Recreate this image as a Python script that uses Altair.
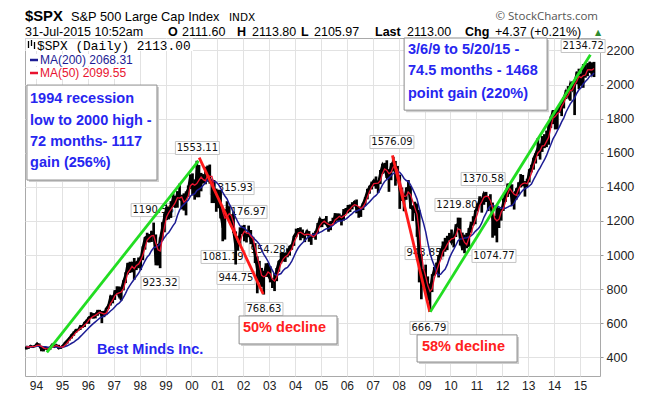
import altair as alt
import pandas as pd

# ---------------- data (monthly, Aug 1993 .. Jul 2015) ----------------
closes = [
    463.6, 458.9, 467.8, 461.8, 466.5,                                                   # 1993 Aug-Dec
    481.6, 467.1, 445.8, 450.9, 456.5, 444.3, 458.3, 475.5, 462.7, 472.4, 453.7, 459.3,  # 1994
    470.4, 487.4, 500.7, 514.7, 533.4, 544.8, 562.1, 561.9, 584.4, 581.5, 605.4, 615.9,  # 1995
    636.0, 640.4, 645.5, 654.2, 669.1, 670.6, 639.9, 651.9, 687.3, 705.3, 757.0, 740.7,  # 1996
    786.2, 790.8, 757.1, 801.3, 848.3, 885.1, 954.3, 899.5, 947.3, 914.6, 955.4, 970.4,  # 1997
    980.3, 1049.3, 1101.8, 1111.8, 1090.8, 1133.8, 1120.7, 957.3, 1017.0, 1098.7, 1163.6, 1229.2,  # 1998
    1279.6, 1238.3, 1286.4, 1335.2, 1301.8, 1372.7, 1328.7, 1320.4, 1282.7, 1362.9, 1388.9, 1469.3,  # 1999
    1394.5, 1366.4, 1498.6, 1452.4, 1420.6, 1454.6, 1430.8, 1517.7, 1436.5, 1429.4, 1315.0, 1320.3,  # 2000
    1366.0, 1239.9, 1160.3, 1249.5, 1255.8, 1224.4, 1211.2, 1133.6, 1040.9, 1059.8, 1139.5, 1148.1,  # 2001
    1130.2, 1106.7, 1147.4, 1076.9, 1067.1, 989.8, 911.6, 916.1, 815.3, 885.8, 936.3, 879.8,  # 2002
    855.7, 841.2, 848.2, 916.9, 963.6, 974.5, 990.3, 1008.0, 996.0, 1050.7, 1058.2, 1111.9,  # 2003
    1131.1, 1144.9, 1126.2, 1107.3, 1120.7, 1140.8, 1101.7, 1104.2, 1114.6, 1130.2, 1173.8, 1211.9,  # 2004
    1181.3, 1203.6, 1180.6, 1156.9, 1191.5, 1191.3, 1234.2, 1220.3, 1228.8, 1207.0, 1249.5, 1248.3,  # 2005
    1280.1, 1280.7, 1294.9, 1310.6, 1270.1, 1270.2, 1276.7, 1303.8, 1335.9, 1377.9, 1400.6, 1418.3,  # 2006
    1438.2, 1406.8, 1420.9, 1482.4, 1530.6, 1503.4, 1455.3, 1473.9, 1527.0, 1549.4, 1481.1, 1468.4,  # 2007
    1378.6, 1330.6, 1322.7, 1385.6, 1400.4, 1280.0, 1267.4, 1282.8, 1166.4, 968.8, 896.2, 903.3,  # 2008
    825.9, 735.1, 797.9, 872.8, 919.1, 919.3, 987.5, 1020.6, 1057.1, 1036.2, 1095.6, 1115.1,  # 2009
    1073.9, 1104.5, 1169.4, 1186.7, 1089.4, 1030.7, 1101.6, 1049.3, 1141.2, 1183.3, 1180.6, 1257.6,  # 2010
    1286.1, 1327.2, 1325.8, 1363.6, 1345.2, 1320.6, 1292.3, 1218.9, 1131.4, 1253.3, 1247.0, 1257.6,  # 2011
    1312.4, 1365.7, 1408.5, 1397.9, 1310.3, 1362.2, 1379.3, 1406.6, 1440.7, 1412.2, 1416.2, 1426.2,  # 2012
    1498.1, 1514.7, 1569.2, 1597.6, 1630.7, 1606.3, 1685.7, 1633.0, 1681.6, 1756.5, 1805.8, 1848.4,  # 2013
    1782.6, 1859.5, 1872.3, 1883.9, 1923.6, 1960.2, 1930.7, 2003.4, 1972.3, 2018.1, 2067.6, 2058.9,  # 2014
    1995.0, 2104.5, 2067.9, 2085.5, 2107.4, 2063.1, 2113.0,                              # 2015 Jan-Jul
]
highs = [
    464, 463, 470, 468, 471,
    482, 482, 468, 452, 458, 460, 459, 477, 476, 474, 474, 466,
    472, 489, 503, 515, 534, 552, 565, 565, 587, 587, 607, 622,
    637, 665, 660, 658, 679, 679, 672, 673, 690, 710, 762, 765,
    794, 817, 816, 812, 852, 899, 954, 961, 960, 983, 963, 986,
    993, 1051, 1106, 1131, 1124, 1142, 1190.58, 1121, 1066, 1103, 1193, 1245,
    1283, 1283, 1316, 1362, 1348, 1374, 1419, 1354, 1362, 1373, 1408, 1474,
    1479, 1444, 1553.11, 1528, 1482, 1475, 1518, 1525, 1531, 1448, 1440, 1390,
    1383, 1376, 1267, 1269, 1315.93, 1287, 1239, 1255, 1139, 1111, 1163, 1173,
    1176.97, 1131, 1173, 1147, 1107, 1070, 992, 966, 925, 907, 952, 954.28,
    935, 864, 895, 924, 966, 1015, 1016, 1012, 1040, 1054, 1063, 1112,
    1155, 1159, 1163, 1150, 1127, 1146, 1141, 1109, 1131, 1142, 1188, 1217,
    1212, 1212, 1229, 1192, 1199, 1219, 1246, 1245, 1244, 1233, 1270, 1276,
    1294, 1297, 1310, 1318, 1326, 1284, 1283, 1306, 1340, 1389, 1407, 1431,
    1441, 1461, 1438, 1499, 1535, 1541, 1556, 1504, 1539, 1576.09, 1552, 1523,
    1471, 1396, 1359, 1397, 1440, 1405, 1292, 1313, 1303, 1265, 1007, 919,
    943.85, 875, 833, 888, 930, 956, 996, 1039, 1080, 1101, 1113, 1130,
    1150, 1113, 1181, 1219.80, 1219, 1132, 1120, 1130, 1158, 1196, 1228, 1263,
    1303, 1345, 1333, 1365, 1370.58, 1345, 1357, 1308, 1229, 1293, 1277, 1270,
    1333, 1378, 1420, 1422, 1415, 1364, 1392, 1427, 1475, 1470, 1434, 1448,
    1503, 1530, 1570, 1598, 1687, 1654, 1698, 1709, 1730, 1776, 1814, 1849,
    1850, 1867, 1884, 1891, 1925, 1968, 1991, 2006, 2019, 2019, 2076, 2093,
    2064, 2120, 2117, 2126, 2134.72, 2130, 2133,
]
lows = [
    446, 450, 458, 455, 460,
    465, 465, 436, 435, 445, 442, 444, 457, 461, 460, 449, 450,
    458, 469, 481, 499, 511, 527, 544, 555, 561, 573, 578, 598,
    597, 631, 627, 629, 644, 657, 601, 636, 648, 684, 704, 717,
    737, 773, 756, 733, 793, 836, 886, 896, 899, 855, 912, 923,
    912, 970, 1032, 1076, 1074, 1077, 1112, 940, 939, 923.32, 1086, 1134,
    1205, 1209, 1218, 1282, 1277, 1278, 1325, 1268, 1261, 1233, 1342, 1387,
    1350, 1325, 1339, 1339, 1374, 1420, 1416, 1431, 1419, 1305, 1305, 1254,
    1275, 1215, 1081.19, 1091, 1244, 1203, 1165, 1129, 944.75, 1026, 1054, 1123,
    1081, 1074, 1105, 1064, 1049, 953, 776, 838, 815, 768.63, 872, 872,
    840, 807, 789, 847, 902, 951, 962, 960, 990, 997, 1031, 1054,
    1105, 1124, 1087, 1101, 1076, 1114, 1078, 1060, 1102, 1090, 1127, 1163,
    1164, 1180, 1176, 1137, 1146, 1188, 1184, 1201, 1201, 1174, 1202, 1245,
    1245, 1253, 1268, 1285, 1245, 1219, 1224, 1264, 1290, 1327, 1360, 1385,
    1403, 1389, 1364, 1416, 1476, 1484, 1452, 1371, 1439, 1490, 1407, 1435,
    1271, 1317, 1257, 1324, 1373, 1272, 1200, 1247, 1107, 840, 741, 815,
    805, 735, 666.79, 783, 879, 888, 869, 979, 992, 1020, 1029, 1086,
    1071, 1045, 1106, 1165, 1056, 1028, 1011, 1040, 1048, 1131, 1173, 1181,
    1257, 1294, 1249, 1295, 1311, 1258, 1283, 1102, 1114, 1074.77, 1159, 1202,
    1259, 1312, 1341, 1358, 1292, 1267, 1325, 1354, 1397, 1403, 1343, 1398,
    1426, 1485, 1501, 1537, 1581, 1560, 1605, 1627, 1633, 1647, 1746, 1768,
    1737, 1738, 1834, 1815, 1860, 1915, 1931, 1905, 1964, 1821, 2001, 1973,
    1993, 1981, 2040, 2049, 2068, 2057, 2044,
]
assert len(closes) == len(highs) == len(lows) == 264

# month mid-points as decimal years, starting Aug 1993
t_vals = [1993 + (7 + i + 0.5) / 12 for i in range(len(closes))]

# price call-outs
callout_text = ["1553.11", "1315.93", "1176.97", "1190.58", "923.32", "1081.19", "944.75", "954.28",
                "768.63", "1576.09", "1219.80", "1370.58", "943.85", "1074.77", "666.79", "2134.72"]
callout_t = [2000.23, 2001.57, 2002.07, 1998.52, 1998.79, 2001.22, 2001.72, 2002.96,
             2002.80, 2007.74, 2010.25, 2011.26, 2008.98, 2011.68, 2009.17, 2015.12]
callout_v = [1628, 1393, 1253, 1264, 836, 989, 866, 1030,
             684, 1663, 1294, 1446, 1012, 995, 573, 2226]

# trend lines
trend_seg = ["g1", "g1", "r1", "r1", "r2", "r2", "g2", "g2"]
trend_t = [1994.42, 2000.27, 2000.30, 2002.77, 2007.76, 2009.20, 2009.22, 2015.40]
trend_v = [430, 1553, 1572, 772, 1585, 667, 667, 2175]
trend_col = ["#22dd22", "#22dd22", "#ff1a1a", "#ff1a1a", "#ff1a1a", "#ff1a1a", "#22dd22", "#22dd22"]

# annotation boxes
box_t1 = [1993.65, 2008.21, 2001.84, 2008.71]
box_t2 = [1998.67, 2013.73, 2005.62, 2012.57]
box_v1 = [1997, 2273, 643, 532]
box_v2 = [1440, 1850, 479, 373]

anno_text = ["1994 recession", "low to 2000 high -", "72 months- 1117", "gain (256%)",
             "3/6/9 to 5/20/15 -", "74.5 months - 1468", "point gain (220%)",
             "50% decline", "58% decline", "Best Minds Inc."]
anno_t = [1993.77, 1993.77, 1993.77, 1993.77, 2008.36, 2008.36, 2008.36, 2001.99, 2008.90, 1996.35]
anno_v = [1915, 1786, 1663, 1540, 2202, 2082, 1944, 573, 461, 444]
anno_col = ["#2626f0"] * 7 + ["#ff2020", "#ff2020", "#2626f0"]

year_ticks = list(range(1994, 2016))
price_ticks = list(range(400, 2201, 200))

# ---------------- chart ----------------
df = pd.DataFrame({"t": t_vals, "close": closes, "high": highs, "low": lows})
callout_df = pd.DataFrame({"label": callout_text, "t": callout_t, "v": callout_v})
trend_df = pd.DataFrame({"seg": trend_seg, "t": trend_t, "v": trend_v, "col": trend_col})
box_df = pd.DataFrame({"t1": box_t1, "t2": box_t2, "v1": box_v1, "v2": box_v2})
anno_df = pd.DataFrame({"text": anno_text, "t": anno_t, "v": anno_v, "col": anno_col})
one = pd.DataFrame({"a": [0]})

xs = alt.Scale(domain=[1993.575, 2015.772], nice=False, zero=False)
ys = alt.Scale(domain=[291, 2273], nice=False, zero=False)
GRID = "#e2e2e2"

x_axis = alt.Axis(values=year_ticks, labelExpr="substring(toString(datum.value), 2, 4)",
                  grid=True, gridColor=GRID, domain=False, ticks=False, title=None,
                  labelFont="Liberation Sans", labelFontSize=12, labelColor="#222",
                  labelPadding=4, labelFlush=False, labelOverlap=False)
y_axis = alt.Axis(orient="right", values=price_ticks, format="d", grid=True, gridColor=GRID,
                  domain=False, tickSize=3, tickColor="#999", labelPadding=3, title=None,
                  labelAlign="left", labelFont="Liberation Sans", labelFontSize=12.5,
                  labelColor="#222", labelFlush=False, labelOverlap=False)


def X(field):
    return alt.X(field, scale=xs, axis=x_axis)


def Y(field):
    return alt.Y(field, scale=ys, axis=y_axis)


layers = []

# call-out boxes (drawn under the price)
layers.append(alt.Chart(callout_df).transform_filter("length(datum.label) == 7")
              .mark_rect(width=44, height=13, fill="white", stroke="#c4c4c4", strokeWidth=1)
              .encode(x=X("t:Q"), y=Y("v:Q")))
layers.append(alt.Chart(callout_df).transform_filter("length(datum.label) == 6")
              .mark_rect(width=38, height=13, fill="white", stroke="#c4c4c4", strokeWidth=1)
              .encode(x=X("t:Q"), y=Y("v:Q")))
layers.append(alt.Chart(callout_df)
              .mark_text(font="DejaVu Sans", fontSize=10, color="#111", baseline="middle")
              .encode(x=X("t:Q"), y=Y("v:Q"), text="label:N"))

# price bars
layers.append(alt.Chart(df).mark_rule(color="#000", strokeWidth=2.7)
              .encode(x=X("t:Q"), y=Y("low:Q"), y2="high:Q"))
layers.append(alt.Chart(df).mark_line(color="#000", strokeWidth=2.2)
              .encode(x=X("t:Q"), y=Y("close:Q")))
# moving averages
layers.append(alt.Chart(df)
              .transform_window(ma200="mean(close)", frame=[-9, 0], sort=[alt.SortField("t")])
              .mark_line(color="#1c1c94", strokeWidth=1.5)
              .encode(x=X("t:Q"), y=Y("ma200:Q")))
layers.append(alt.Chart(df)
              .transform_window(ma50="mean(close)", frame=[-2, 0], sort=[alt.SortField("t")])
              .mark_line(color="#e8132f", strokeWidth=1.3)
              .encode(x=X("t:Q"), y=Y("ma50:Q")))

# trend lines
layers.append(alt.Chart(trend_df).mark_line(strokeWidth=2.8)
              .encode(x=X("t:Q"), y=Y("v:Q"), detail="seg:N", color=alt.Color("col:N", scale=None)))

# annotation boxes
layers.append(alt.Chart(box_df).mark_rect(fill="#cfcfcf", xOffset=2, x2Offset=2, yOffset=2, y2Offset=2)
              .encode(x=X("t1:Q"), x2="t2:Q", y=Y("v1:Q"), y2="v2:Q"))
layers.append(alt.Chart(box_df).mark_rect(fill="white", stroke="#8c8c8c", strokeWidth=1)
              .encode(x=X("t1:Q"), x2="t2:Q", y=Y("v1:Q"), y2="v2:Q"))
layers.append(alt.Chart(anno_df)
              .mark_text(align="left", baseline="middle", font="Liberation Sans", fontSize=14.5,
                         fontWeight="bold")
              .encode(x=X("t:Q"), y=Y("v:Q"), text="text:N", color=alt.Color("col:N", scale=None)))


# ---- legend inside plot (pixel layout) ----
def prect(x1, x2, y1, y2, **kw):
    return alt.Chart(one).mark_rect(**kw).encode(
        x=alt.value(x1), x2=alt.value(x2), y=alt.value(y1), y2=alt.value(y2))


def ptext(txt, x, y, **kw):
    return alt.Chart(one).mark_text(text=txt, align=kw.pop("align", "left"), **kw).encode(
        x=alt.value(x), y=alt.value(y))


def prule(x1, x2, y1, y2, **kw):
    return alt.Chart(one).mark_rule(**kw).encode(
        x=alt.value(x1), x2=alt.value(x2), y=alt.value(y1), y2=alt.value(y2))


layers.append(prect(0.5, 168, 0.5, 13, fill="white"))
layers.append(prect(3, 110, 16, 28, fill="white"))
layers.append(prect(3, 100, 29, 41, fill="white"))
layers.append(prule(3.5, 3.5, 3, 10, color="#000", strokeWidth=1.3))
layers.append(prule(6.5, 6.5, 2, 8, color="#000", strokeWidth=1.3))
layers.append(prule(9.5, 9.5, 4, 11, color="#000", strokeWidth=1.3))
layers.append(ptext("$SPX (Daily) 2113.00", 12, 7.6, baseline="middle", font="Liberation Mono",
                    fontSize=12.8, color="#000"))
layers.append(prule(5, 13, 22, 22, color="#1c1c94", strokeWidth=2.5))
layers.append(ptext("MA(200) 2068.31", 15, 22, baseline="middle", font="Liberation Sans",
                    fontSize=12, color="#1c1c94"))
layers.append(prule(5, 13, 35, 35, color="#e8132f", strokeWidth=2.5))
layers.append(ptext("MA(50) 2099.55", 15, 35, baseline="middle", font="Liberation Sans",
                    fontSize=12, color="#e8132f"))

# ---- header ----
HB = -17
layers.append(ptext("$SPX", 0, HB, baseline="alphabetic", font="Liberation Sans", fontSize=14.8,
                    fontWeight="bold", color="#000"))
layers.append(ptext("S&P 500 Large Cap Index", 46, HB, baseline="alphabetic", font="Liberation Sans",
                    fontSize=12.8, color="#000"))
layers.append(ptext("INDX", 204, HB, baseline="alphabetic", font="DejaVu Sans", fontSize=10.5,
                    color="#000"))
layers.append(ptext("© StockCharts.com", 573, -18, align="right", baseline="alphabetic",
                    font="Open Sans", fontSize=11.5, color="#555"))
L2 = -2.5
for txt, x, bold in [("31-Jul-2015 10:52am", 0, False), ("O", 143, True), ("2111.60", 157, False),
                     ("H", 212, True), ("2113.80", 227, False), ("L", 276, True),
                     ("2105.97", 289, False), ("Last", 350, True), ("2113.00", 382, False),
                     ("Chg", 440, True), ("+4.37 (+0.21%)", 470, False)]:
    layers.append(ptext(txt, x, L2, baseline="alphabetic", font="Liberation Sans", fontSize=12.5,
                        fontWeight="bold" if bold else "normal", color="#000"))
layers.append(ptext("▲", 570, L2 - 1, baseline="alphabetic", font="DejaVu Sans", fontSize=8,
                    color="#2e8b2e"))

chart = alt.layer(*layers).properties(
    width=575, height=338,
    autosize=alt.AutoSizeParams(type="none"),
    padding={"left": 17, "top": 30, "right": 47, "bottom": 15},
).configure_view(stroke="#a9a9a9", strokeWidth=1)

chart.save("out.html", embed_options={"renderer": "svg", "actions": False})
